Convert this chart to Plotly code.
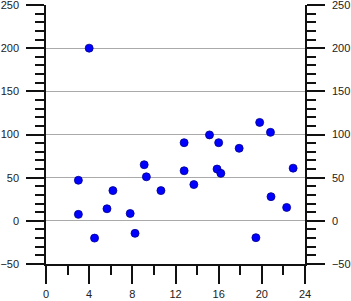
import plotly.graph_objects as go

x_vals = [4, 3, 6.2, 3, 5.65, 4.5, 9.1, 9.3, 10.65, 7.8, 8.25, 12.8, 13.7, 15.85, 16.2,
          22.9, 20.85, 22.3, 19.45, 19.8, 20.8, 15.15, 12.8, 16, 17.9]
y_vals = [200, 47, 35, 7.5, 14, -20, 65, 51, 35, 8.5, -14.5, 58, 42, 60, 55,
          61, 28, 15.5, -19.5, 114, 102.5, 99.5, 90.5, 90.5, 84]

x_ticks = [0, 4, 8, 12, 16, 20, 24]
y_ticks = [-50, 0, 50, 100, 150, 200, 250]

fig = go.Figure()
fig.add_trace(go.Scatter(
    x=x_vals, y=y_vals, mode="markers",
    marker=dict(color="#0000FF", size=8, line=dict(color="#00008B", width=0.8)),
    showlegend=False,
))
fig.add_trace(go.Scatter(x=[None], y=[None], yaxis="y2", showlegend=False, hoverinfo="skip"))

font = dict(family="Liberation Sans, Arial, sans-serif", size=11, color="#222222")
axis_common = dict(
    showline=True, linecolor="#111111", linewidth=1.5,
    ticks="outside", ticklen=18, tickwidth=1.5, tickcolor="#111111",
    tickfont=font, zeroline=False, ticklabeloverflow="allow",
    automargin=False,
)

fig.update_layout(
    width=351, height=301,
    margin=dict(l=46, r=46, t=5, b=37),
    paper_bgcolor="white", plot_bgcolor="white",
    xaxis=dict(range=[0, 24], tickvals=x_ticks, showgrid=False, ticklabelstandoff=1,
               minor=dict(dtick=2, tick0=0, ticks="outside", ticklen=9, tickwidth=1.5, tickcolor="#111111"),
               **axis_common),
    yaxis=dict(range=[-50, 250], tickvals=y_ticks, showgrid=True, gridcolor="#AAAAAA", gridwidth=1,
               ticklabelstandoff=5,
               minor=dict(dtick=10, tick0=0, ticks="outside", ticklen=9, tickwidth=1.5, tickcolor="#111111"),
               **axis_common),
    yaxis2=dict(range=[-50, 250], tickvals=y_ticks, showgrid=False, overlaying="y", side="right",
                ticklabelstandoff=5,
                minor=dict(dtick=10, tick0=0, ticks="outside", ticklen=9, tickwidth=1.5, tickcolor="#111111"),
                **axis_common),
)

fig.write_html("out.html")
